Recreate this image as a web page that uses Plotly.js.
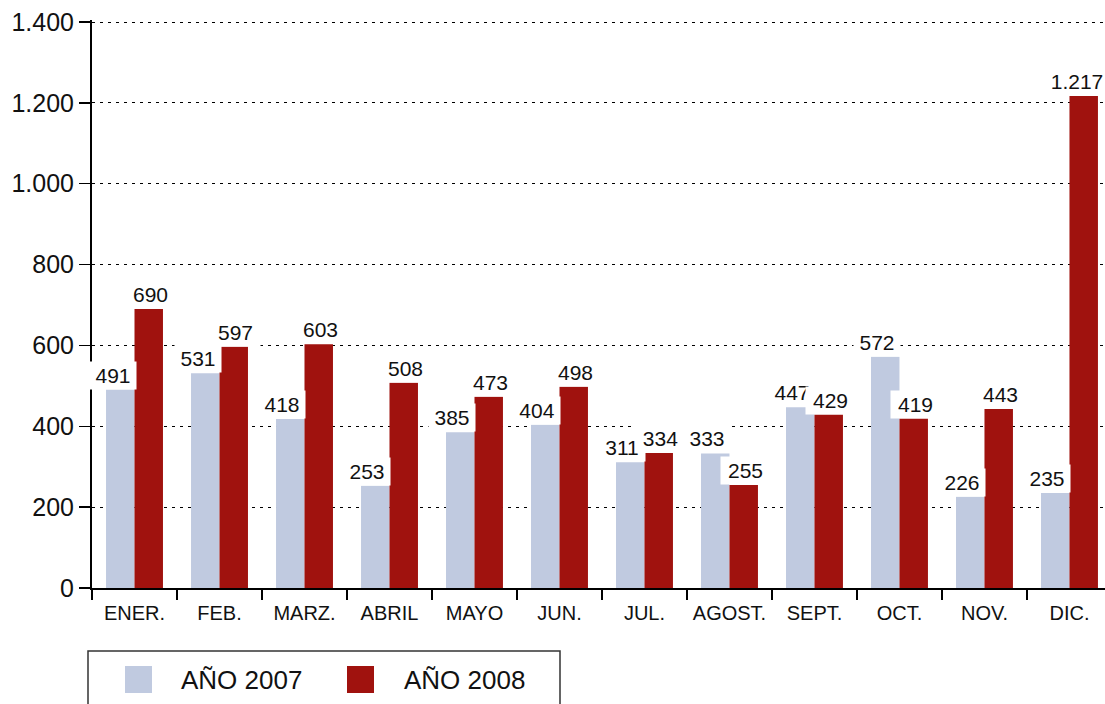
<!DOCTYPE html>
<html>
<head>
<meta charset="utf-8">
<script src="https://cdn.plot.ly/plotly-3.0.1.min.js"></script>
<style>html,body{margin:0;padding:0;background:#fff;}#chart{width:1105px;height:704px;}</style>
</head>
<body>
<div id="chart"></div>
<script>
const months = ["ENER.", "FEB.", "MARZ.", "ABRIL", "MAYO", "JUN.", "JUL.", "AGOST.", "SEPT.", "OCT.", "NOV.", "DIC."];
const series2007Name = "AÑO 2007";
const series2008Name = "AÑO 2008";
const values2007 = [491, 531, 418, 253, 385, 404, 311, 333, 447, 572, 226, 235];
const values2008 = [690, 597, 603, 508, 473, 498, 334, 255, 429, 419, 443, 1217];
const yTicks = [0, 200, 400, 600, 800, 1000, 1200, 1400];

const color2007 = "rgb(192,202,224)";
const color2008 = "rgb(160,18,14)";
const FONT = "'Liberation Sans', Arial, Helvetica, sans-serif";

function fmt(v) { return String(v).replace(/\B(?=(\d{3})+(?!\d))/g, "."); }

// plot-area pixel geometry (for legend placement only)
const L = 92, R = 1105, T = 20, B = 588;
const px = x => (x - L) / (R - L);
const py = y => (B - y) / (B - T);

const traces = [
  { type: "bar", name: series2007Name, x: months, y: values2007, marker: { color: color2007 }, showlegend: false, hoverinfo: "x+y" },
  { type: "bar", name: series2008Name, x: months, y: values2008, marker: { color: color2008 }, showlegend: false, hoverinfo: "x+y" }
];

const labelFont = { family: FONT, size: 21, color: "#111" };
const annotations = [];
months.forEach((m, i) => {
  annotations.push({ x: m, y: values2007[i], xref: "x", yref: "y", text: fmt(values2007[i]), showarrow: false,
    xanchor: "center", yanchor: "bottom", xshift: -22, width: 46, height: 27, borderpad: 0,
    bgcolor: "#ffffff", font: labelFont });
});
months.forEach((m, i) => {
  const last = i === months.length - 1;
  annotations.push({ x: m, y: values2008[i], xref: "x", yref: "y", text: fmt(values2008[i]), showarrow: false,
    xanchor: "center", yanchor: "bottom", xshift: last ? 8 : 16, width: last ? 54 : 49, height: 27, borderpad: 0,
    bgcolor: "#ffffff", font: labelFont });
});
// custom legend
annotations.push({ xref: "paper", yref: "paper", x: px(179), y: py(680), xanchor: "left", yanchor: "middle",
  text: series2007Name, showarrow: false, font: { family: FONT, size: 26, color: "#111" } });
annotations.push({ xref: "paper", yref: "paper", x: px(402), y: py(680), xanchor: "left", yanchor: "middle",
  text: series2008Name, showarrow: false, font: { family: FONT, size: 26, color: "#111" } });

const shapes = [
  { type: "rect", xref: "paper", yref: "paper", x0: px(88), x1: px(560), y0: py(651), y1: py(712),
    line: { color: "#333", width: 1.5 }, fillcolor: "rgba(0,0,0,0)" },
  { type: "rect", xref: "paper", yref: "paper", x0: px(125), x1: px(152), y0: py(666), y1: py(693),
    line: { width: 0 }, fillcolor: color2007 },
  { type: "rect", xref: "paper", yref: "paper", x0: px(347), x1: px(374), y0: py(666), y1: py(693),
    line: { width: 0 }, fillcolor: color2008 }
];

const layout = {
  width: 1105, height: 704,
  margin: { l: L, r: 1105 - R, t: T, b: 704 - B, pad: 0 },
  paper_bgcolor: "#fff", plot_bgcolor: "#fff",
  separators: ",.",
  barmode: "group", bargap: 0.33, bargroupgap: 0,
  showlegend: false,
  font: { family: FONT, color: "#111" },
  xaxis: {
    type: "category", range: [-0.5, 11.418],
    showline: true, linecolor: "#000", linewidth: 2,
    ticks: "outside", tickson: "boundaries", ticklen: 10, tickwidth: 1.5, tickcolor: "#000",
    showgrid: false, zeroline: false, tickangle: 0, automargin: false, ticklabelstandoff: 6,
    tickfont: { family: FONT, size: 20, color: "#111" }
  },
  yaxis: {
    range: [0, 1405], tickmode: "array", tickvals: yTicks, ticktext: yTicks.map(fmt),
    showline: true, linecolor: "#000", linewidth: 2,
    ticks: "outside", ticklen: 11, tickwidth: 1.5, tickcolor: "#000",
    showgrid: true, gridcolor: "#000", gridwidth: 1, griddash: "3px,5px",
    zeroline: false, automargin: false,
    tickfont: { family: FONT, size: 25, color: "#111" }
  },
  annotations: annotations,
  shapes: shapes
};

Plotly.newPlot("chart", traces, layout, { displayModeBar: false, staticPlot: true });
</script>
</body>
</html>
